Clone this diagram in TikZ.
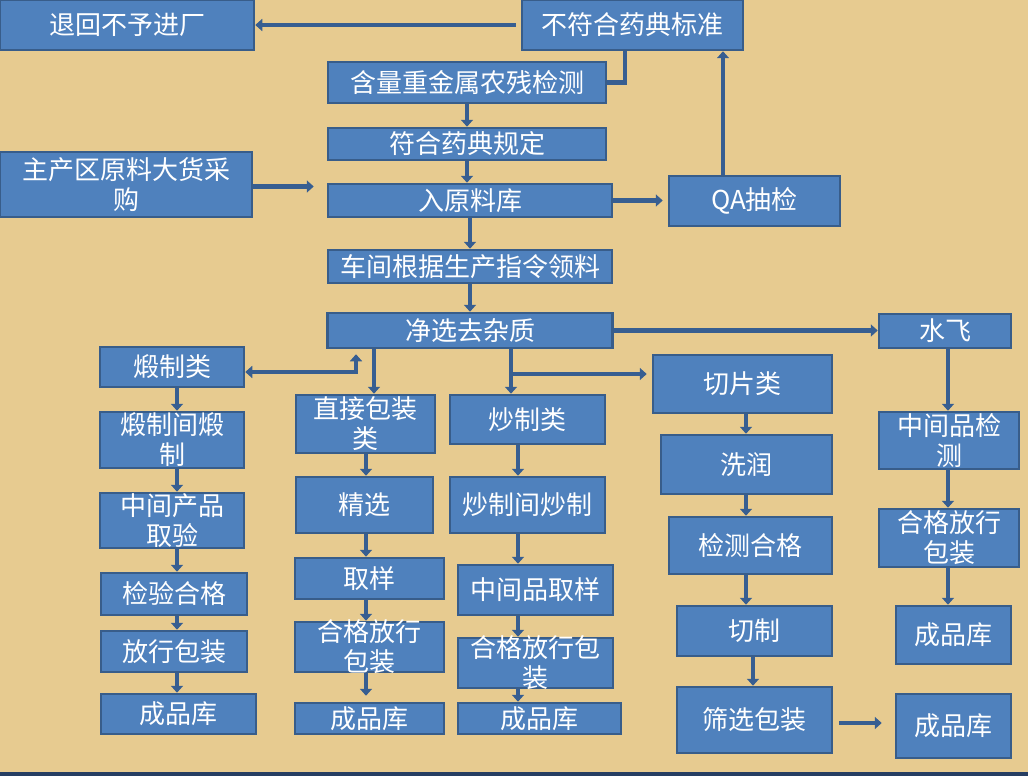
\documentclass[tikz,border=0pt]{standalone}
\usepackage{fontspec}
\newfontfamily\cjk{Noto Sans CJK SC}
\usepackage{xcolor}
\usepackage{tikz}
\usetikzlibrary{positioning,arrows.meta}
\definecolor{paper}{RGB}{231,203,144}
\definecolor{boxfill}{RGB}{79,129,189}
\definecolor{boxline}{RGB}{56,93,138}
\definecolor{flow}{RGB}{55,94,145}
\definecolor{rim}{RGB}{38,62,98}
\tikzset{
  boxtext/.style={text=white,align=center,inner sep=0pt,font=\cjk\fontsize{26}{30}\selectfont},
  box/.style={boxtext,draw=boxline,fill=boxfill,line width=2.5pt},
  sz/.style 2 args={minimum width=#1pt,minimum height=#2pt},
  arr/.style={flow,line width=4.5pt,-{Triangle[width=12pt,length=7pt]}},
  link/.style={flow,line width=4.5pt},
}

\begin{document}
\begin{tikzpicture}[x=1pt,y=-1pt]
  \useasboundingbox (0,0) rectangle (1028,776);
  \fill[paper] (0,0) rectangle (1028,776);
  \fill[rim] (0,772) rectangle (1028,776);

  % top part
  \node[box,sz={254}{50}] (reject) at (127,25) {退回不予进厂};
  \node[box,sz={221}{50}] (nonstd) at (632.5,25) {不符合药典标准};
  \node[box,sz={278}{41}] (content) at (467,82.5) {含量重金属农残检测};
  \node[box,sz={278}{32}] (conform) at (467,144) {符合药典规定};
  \node[box,sz={252}{65}] (purchase) at (126,184.5) {主产区原料大货采\\购};
  \node[box,sz={284}{33}] (store) at (470,200.5) {入原料库};
  \node[box,sz={171}{50}] (qa) at (754.5,201) {QA抽检};
  \node[box,sz={284}{33}] (workshop) at (470,266.5) {车间根据生产指令领料};
  \node[box,sz={285}{35}] (clean) at (470,330.5) {净选去杂质};
  \node[box,sz={132}{34}] (water) at (945,331) {水飞};

  % branches
  \node[box,sz={144}{40}] (calcine) at (172,367) {煅制类};
  \node[box,sz={144}{56}] (calroom) at (172,440) {煅制间煅\\制};
  \node[box,sz={144}{55}] (midprod) at (172,520.5) {中间产品\\取验};
  \node[box,sz={146}{42}] (check) at (174,594) {检验合格};
  \node[box,sz={146}{41}] (release) at (174,651.5) {放行包装};
  \node[box,sz={155}{40}] (finA) at (178.5,714) {成品库};

  \node[box,sz={139}{58}] (direct) at (365.5,424) {直接包装\\类};
  \node[box,sz={137}{56}] (select) at (364.5,505) {精选};
  \node[box,sz={149}{41}] (sample) at (369.5,578.5) {取样};
  \node[box,sz={149}{50},label={[boxtext]center:{合格放行\\包装}}] (passA) at (369.5,647) {};
  \node[box,sz={149}{31}] (finB) at (369.5,718.5) {成品库};

  \node[box,sz={155}{49}] (fry) at (527.5,419.5) {炒制类};
  \node[box,sz={155}{56}] (fryroom) at (527.5,505) {炒制间炒制};
  \node[box,sz={155}{50}] (midsample) at (535.5,590) {中间品取样};
  \node[box,sz={155}{50},label={[boxtext]center:{合格放行包\\装}}] (passB) at (535.5,663) {};
  \node[box,sz={163}{31}] (finC) at (539.5,718.5) {成品库};

  \node[box,sz={179}{58}] (slice) at (742.5,384) {切片类};
  \node[box,sz={171}{59}] (wash) at (746.5,464.5) {洗润};
  \node[box,sz={163}{57}] (test) at (750.5,545.5) {检测合格};
  \node[box,sz={155}{50}] (cut) at (754.5,631) {切制};
  \node[box,sz={155}{66}] (sieve) at (754.5,720) {筛选包装};
  \node[box,sz={115}{64}] (finE) at (953.5,726) {成品库};

  \node[box,sz={140}{57}] (midtest) at (949,440.5) {中间品检\\测};
  \node[box,sz={140}{58}] (passC) at (949,538) {合格放行\\包装};
  \node[box,sz={115}{58}] (finD) at (953.5,635) {成品库};

  % columns of the arrows
  \coordinate (colL) at (177,0);
  \coordinate (colM) at (366,0);
  \coordinate (colF) at (518,0);
  \coordinate (colS) at (746,0);
  \coordinate (colT) at (753,0);
  \coordinate (colW) at (948,0);
  \coordinate (qaup) at (723,0);
  \coordinate (back) at (625,0);
  \coordinate (calup) at (356,0);
  \coordinate (split) at (511,374);

  \draw[arr,shorten <=5pt] (nonstd.west) -- (reject.east);
  \draw[link] (content.east) -| (back |- nonstd.south);
  \draw[arr] (qa.north -| qaup) -- (nonstd.south -| qaup);
  \draw[arr] (content.south) -- (conform.north);
  \draw[arr] (conform.south) -- (conform.south |- store.north);
  \draw[arr,shorten >=13pt] ([yshift=-2pt]purchase.east) -- ([yshift=-2pt]purchase.east -| store.west);
  \draw[arr,shorten >=5pt] (store.east) -- (store.east -| qa.west);
  \draw[arr] (store.south) -- (workshop.north);
  \draw[arr] (workshop.south) -- (clean.north);
  \draw[arr] (clean.east) -- (clean.east -| water.west);
  \draw[flow,line width=4.5pt,{Triangle[width=12pt,length=7pt]}-{Triangle[width=12pt,length=7pt]}]
    ([yshift=-5pt]calcine.east) -| ([yshift=-5pt]clean.south -| calup);
  \draw[arr] (clean.south -| 374,0) -- (direct.north -| 374,0);
  \draw[arr] (clean.south -| split) -- (fry.north -| split);
  \draw[arr,shorten >=5pt] (split) -- (split -| slice.west);
  \draw[arr,shorten <=6pt,shorten >=13pt] ([yshift=-3pt]sieve.east) -- ([yshift=-3pt]sieve.east -| finE.west);

  \foreach \a/\b/\c in {calcine/calroom/colL,calroom/midprod/colL,midprod/check/colL,
      check/release/colL,release/finA/colL,direct/select/colM,select/sample/colM,
      sample/passA/colM,fry/fryroom/colF,fryroom/midsample/colF,midsample/passB/colF,
      passB/finC/colF,slice/wash/colS,wash/test/colS,test/cut/colS,cut/sieve/colT,
      water/midtest/colW,midtest/passC/colW,passC/finD/colW}
    \draw[arr] (\a.south -| \c) -- (\b.north -| \c);
  \draw[arr,shorten >=6pt] (passA.south -| colM) -- (finB.north -| colM);
\end{tikzpicture}
\end{document}
